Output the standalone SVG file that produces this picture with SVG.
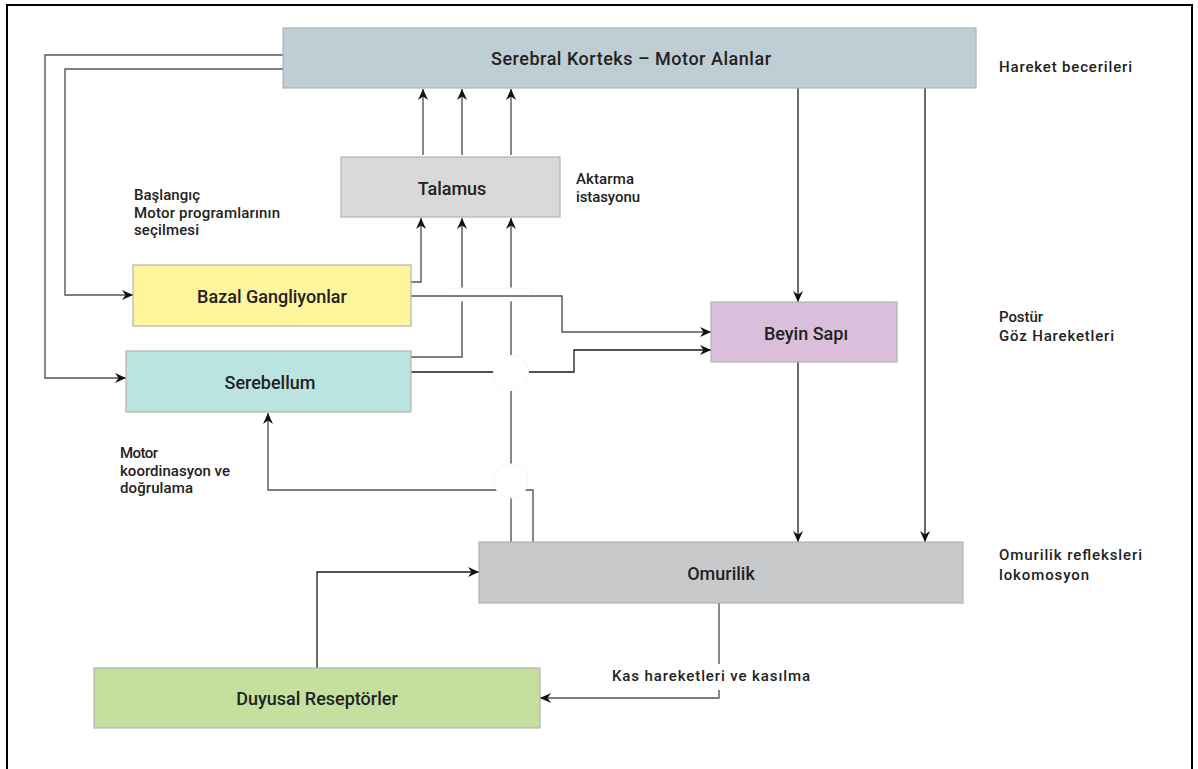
<svg xmlns="http://www.w3.org/2000/svg" width="1198" height="769" viewBox="0 0 1198 769">
<style>
.node rect{stroke:#b3b3b3;stroke-width:1.2}
.lbl{font-family:Roboto,"Liberation Sans",sans-serif;font-size:18px;font-weight:500;fill:#222;text-anchor:middle}
.side{font-family:Roboto,"Liberation Sans",sans-serif;font-size:15px;font-weight:500;fill:#222}
.ln{fill:none;stroke:#555;stroke-width:1.4}
.dk{fill:none;stroke:#1a1a1a;stroke-width:1.3}
.mask{fill:#fff;stroke:#f6f6f6;stroke-width:1}
</style>
<defs>
<marker id="ah" markerUnits="userSpaceOnUse" markerWidth="12" markerHeight="12" viewBox="0 0 12 12" refX="11" refY="6" orient="auto">
<path d="M0,1 L11,6 L0,11 L3.5,6 z" fill="#111"/>
</marker>
</defs>
<rect x="0" y="0" width="1198" height="769" fill="#fff"/>
<rect x="7" y="5" width="1185" height="790" fill="none" stroke="#000" stroke-width="2"/>

<g id="connectors">
<path class="ln" d="M283,55 H45 V378 H126" marker-end="url(#ah)"/>
<path class="ln" d="M283,69 H65 V295 H133" marker-end="url(#ah)"/>
<path class="ln" d="M423,155 V89" marker-end="url(#ah)"/>
<path class="ln" d="M462,155 V89" marker-end="url(#ah)"/>
<path class="ln" d="M511,155 V89" marker-end="url(#ah)"/>
<path class="ln" d="M411,282 H421 V218" marker-end="url(#ah)"/>
<path class="ln" d="M411,357 H462 V218" marker-end="url(#ah)"/>
<path class="ln" d="M511,542 V218" marker-end="url(#ah)"/>
<path class="ln" d="M533,542 V490 H268 V413" marker-end="url(#ah)"/>
<path class="dk" d="M411,372 H574 V350 H711" marker-end="url(#ah)"/>
<rect class="mask" x="448" y="288" width="85" height="13"/>
<circle class="mask" cx="511" cy="373" r="17.5"/>
<circle class="mask" cx="511" cy="481" r="17"/>
<path class="ln" d="M411,296 H562 V332 H711" marker-end="url(#ah)"/>
<path class="dk" d="M798,88 V302" marker-end="url(#ah)"/>
<path class="dk" d="M925,88 V542" marker-end="url(#ah)"/>
<path class="dk" d="M798,362 V542" marker-end="url(#ah)"/>
<path class="dk" d="M317,668 V572 H479" marker-end="url(#ah)"/>
<path class="ln" d="M719,603 V698 H540" marker-end="url(#ah)"/>
<rect x="608" y="664" width="206" height="26" fill="#fff"/>
<text class="side" x="711" y="681" text-anchor="middle" textLength="198">Kas hareketleri ve kasılma</text>
</g>

<g id="korteks" class="node">
<rect x="283" y="28" width="693" height="60" fill="#bfcdd4"/>
<text class="lbl" x="631" y="65" textLength="280">Serebral Korteks – Motor Alanlar</text>
</g>
<g id="talamus" class="node">
<rect x="341" y="157" width="219" height="60" fill="#d9d9d9"/>
<text class="lbl" x="452" y="195">Talamus</text>
</g>
<g id="bazal" class="node">
<rect x="133" y="265" width="278" height="61" fill="#fff59d"/>
<text class="lbl" x="272" y="303">Bazal Gangliyonlar</text>
</g>
<g id="serebellum" class="node">
<rect x="126" y="351" width="285" height="61" fill="#bbe3df"/>
<text class="lbl" x="270" y="389">Serebellum</text>
</g>
<g id="beyinsapi" class="node">
<rect x="711" y="302" width="186" height="60" fill="#dabfdd"/>
<text class="lbl" x="806" y="340">Beyin Sapı</text>
</g>
<g id="omurilik" class="node">
<rect x="479" y="542" width="484" height="61" fill="#c8c9cb"/>
<text class="lbl" x="721" y="580">Omurilik</text>
</g>
<g id="duyusal" class="node">
<rect x="94" y="668" width="446" height="60" fill="#c5df9e"/>
<text class="lbl" x="317" y="705">Duyusal Reseptörler</text>
</g>

<g id="annotations">
<text class="side" x="576" y="184" textLength="58">Aktarma</text>
<text class="side" x="576" y="202" textLength="64">istasyonu</text>
<text class="side" x="134" y="200" textLength="66">Başlangıç</text>
<text class="side" x="134" y="218" textLength="146">Motor programlarının</text>
<text class="side" x="134" y="235" textLength="65">seçilmesi</text>
<text class="side" x="120" y="458" textLength="38">Motor</text>
<text class="side" x="120" y="476" textLength="110">koordinasyon ve</text>
<text class="side" x="120" y="493" textLength="73">doğrulama</text>
<text class="side" x="999" y="72" textLength="133">Hareket becerileri</text>
<text class="side" x="999" y="322" textLength="44">Postür</text>
<text class="side" x="999" y="341" textLength="115">Göz Hareketleri</text>
<text class="side" x="999" y="560" textLength="143">Omurilik refleksleri</text>
<text class="side" x="999" y="580" textLength="90">lokomosyon</text>
</g>
</svg>
